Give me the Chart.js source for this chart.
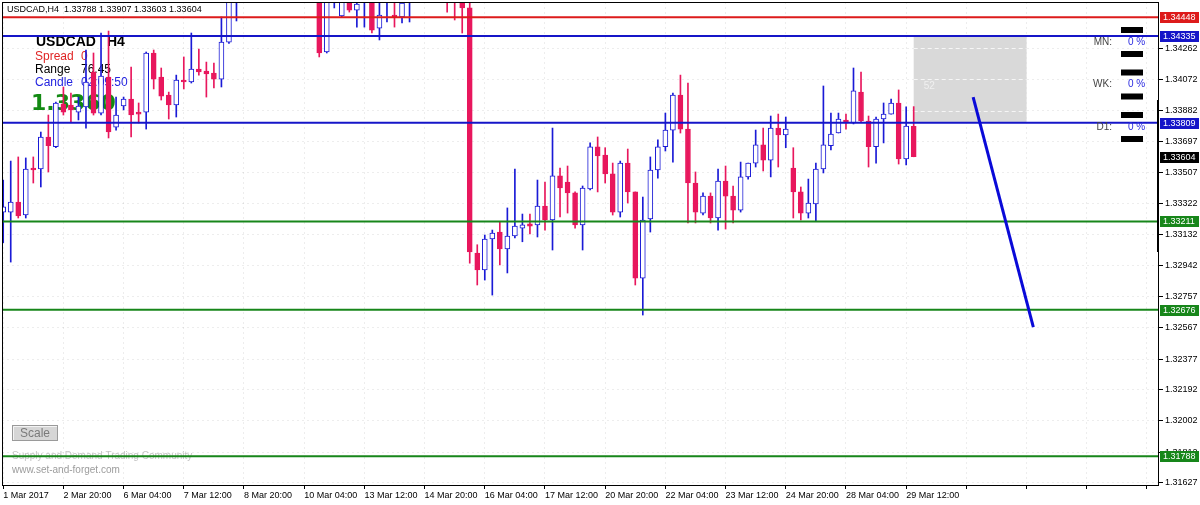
<!DOCTYPE html>
<html>
<head>
<meta charset="utf-8">
<script src="https://cdn.jsdelivr.net/npm/chart.js@4.4.1/dist/chart.umd.min.js"></script>
<style>
  html, body { margin: 0; padding: 0; background: #fff; }
  canvas { display: block; }
</style>
</head>
<body>
<canvas id="grafico" width="1200" height="505"></canvas>
<script>
// USDCAD H4 - bar index 0 = 1 Mar 2017 12:00
const symbol = 'USDCAD';
const period = 'H4';

const opens = [
  1.33268, 1.33268, 1.33329, 1.33250, 1.33535, 1.33529, 1.33723, 1.33664, 1.33923, 1.33917,
  1.33874, 1.33905, 1.34117, 1.33868, 1.34086, 1.33783, 1.33911, 1.33953, 1.33874, 1.33874,
  1.34232, 1.34086, 1.33977, 1.33917, 1.34068, 1.34056, 1.34135, 1.34123, 1.34111, 1.34074,
  1.34298, 1.34620, 1.34760, 1.34880, 1.34980, 1.35070, 1.35150, 1.35280, 1.35100, 1.34950,
  1.34850, 1.34720, 1.34660, 1.34238, 1.34580, 1.34456, 1.34580, 1.34492, 1.34560, 1.34620,
  1.34383, 1.34560, 1.34462, 1.34450, 1.34560, 1.34660, 1.34720, 1.34680, 1.34620, 1.34680,
  1.34600, 1.34535, 1.34505, 1.33020, 1.32917, 1.33105, 1.33147, 1.33044, 1.33123, 1.33171,
  1.33196, 1.33190, 1.33305, 1.33220, 1.33487, 1.33450, 1.33384, 1.33190, 1.33408, 1.33664,
  1.33614, 1.33499, 1.33268, 1.33565, 1.33390, 1.32868, 1.33226, 1.33523, 1.33664, 1.33765,
  1.33977, 1.33771, 1.33444, 1.33262, 1.33365, 1.33232, 1.33456, 1.33365, 1.33280, 1.33481,
  1.33565, 1.33676, 1.33583, 1.33777, 1.33735, 1.33535, 1.33390, 1.33262, 1.33317, 1.33529,
  1.33670, 1.33747, 1.33826, 1.33808, 1.33995, 1.33820, 1.33664, 1.33832, 1.33862, 1.33929,
  1.33590, 1.33788
];
const highs = [
  1.33462, 1.33577, 1.33602, 1.33596, 1.33602, 1.33753, 1.33856, 1.33935, 1.34026, 1.33989,
  1.33965, 1.34250, 1.34232, 1.34353, 1.34365, 1.33965, 1.33965, 1.34147, 1.33929, 1.34238,
  1.34250, 1.34141, 1.33995, 1.34098, 1.34208, 1.34353, 1.34256, 1.34177, 1.34171, 1.34450,
  1.34700, 1.34850, 1.34920, 1.35050, 1.35120, 1.35220, 1.35350, 1.35330, 1.35180, 1.35050,
  1.34900, 1.34800, 1.34700, 1.34680, 1.34700, 1.34700, 1.34620, 1.34580, 1.34680, 1.34680,
  1.34580, 1.34680, 1.34600, 1.34600, 1.34720, 1.34780, 1.34820, 1.34760, 1.34720, 1.34750,
  1.34680, 1.34620, 1.34560, 1.33070, 1.33129, 1.33159, 1.33208, 1.33293, 1.33529, 1.33256,
  1.33256, 1.33462, 1.33450, 1.33777, 1.33535, 1.33547, 1.33390, 1.33426, 1.33687, 1.33723,
  1.33658, 1.33565, 1.33577, 1.33650, 1.33390, 1.33359, 1.33602, 1.33705, 1.33868, 1.33989,
  1.34098, 1.34050, 1.33511, 1.33384, 1.33384, 1.33529, 1.33547, 1.33426, 1.33571, 1.33565,
  1.33765, 1.33777, 1.33850, 1.33862, 1.33844, 1.33658, 1.33420, 1.33468, 1.33565, 1.34032,
  1.33868, 1.33868, 1.33862, 1.34141, 1.34117, 1.33850, 1.33844, 1.33929, 1.33953, 1.34008,
  1.33905, 1.33907
];
const lows = [
  1.33082, 1.32965, 1.33232, 1.33232, 1.33444, 1.33420, 1.33511, 1.33658, 1.33856, 1.33814,
  1.33826, 1.33777, 1.33856, 1.33856, 1.33717, 1.33765, 1.33887, 1.33723, 1.33808, 1.33771,
  1.34014, 1.33947, 1.33832, 1.33844, 1.34014, 1.34050, 1.34098, 1.33965, 1.34020, 1.34026,
  1.34290, 1.34426, 1.34700, 1.34800, 1.34900, 1.34950, 1.35050, 1.35000, 1.34900, 1.34780,
  1.34680, 1.34620, 1.34208, 1.34232, 1.34505, 1.34450, 1.34480, 1.34389, 1.34389, 1.34353,
  1.34311, 1.34420, 1.34389, 1.34414, 1.34420, 1.34600, 1.34640, 1.34580, 1.34560, 1.34480,
  1.34432, 1.34353, 1.32959, 1.32826, 1.32856, 1.32765, 1.32947, 1.32899, 1.33111, 1.33088,
  1.33135, 1.33117, 1.33159, 1.33038, 1.33238, 1.33262, 1.33171, 1.33038, 1.33402, 1.33390,
  1.33444, 1.33250, 1.33238, 1.33323, 1.32826, 1.32644, 1.33147, 1.33474, 1.33638, 1.33571,
  1.33747, 1.33202, 1.33202, 1.33250, 1.33202, 1.33159, 1.33165, 1.33202, 1.33268, 1.33468,
  1.33541, 1.33517, 1.33481, 1.33541, 1.33658, 1.33232, 1.33220, 1.33232, 1.33214, 1.33505,
  1.33644, 1.33747, 1.33771, 1.33802, 1.33814, 1.33541, 1.33565, 1.33687, 1.33862, 1.33559,
  1.33553, 1.33603
];
const closes = [
  1.33299, 1.33329, 1.33244, 1.33529, 1.33523, 1.33723, 1.33670, 1.33929, 1.33874, 1.33887,
  1.33911, 1.34056, 1.33868, 1.34092, 1.33753, 1.33856, 1.33953, 1.33856, 1.33862, 1.34232,
  1.34074, 1.33971, 1.33917, 1.34068, 1.34056, 1.34135, 1.34117, 1.34105, 1.34074, 1.34298,
  1.34620, 1.34760, 1.34880, 1.34980, 1.35070, 1.35150, 1.35280, 1.35100, 1.34950, 1.34850,
  1.34720, 1.34660, 1.34232, 1.34620, 1.34640, 1.34620, 1.34492, 1.34529, 1.34620, 1.34371,
  1.34462, 1.34620, 1.34450, 1.34535, 1.34660, 1.34720, 1.34680, 1.34620, 1.34680, 1.34600,
  1.34560, 1.34505, 1.33026, 1.32917, 1.33105, 1.33141, 1.33044, 1.33123, 1.33183, 1.33190,
  1.33183, 1.33305, 1.33220, 1.33487, 1.33414, 1.33384, 1.33190, 1.33414, 1.33664, 1.33608,
  1.33499, 1.33268, 1.33565, 1.33390, 1.32868, 1.33220, 1.33523, 1.33664, 1.33765, 1.33977,
  1.33771, 1.33444, 1.33268, 1.33365, 1.33232, 1.33456, 1.33365, 1.33280, 1.33481, 1.33565,
  1.33676, 1.33583, 1.33777, 1.33735, 1.33771, 1.33390, 1.33262, 1.33323, 1.33529, 1.33676,
  1.33741, 1.33832, 1.33808, 1.34002, 1.33820, 1.33664, 1.33832, 1.33862, 1.33929, 1.33590,
  1.33789, 1.33604
];

// time axis: one label every 8 bars
const timeLabels = ['1 Mar 2017', '2 Mar 20:00', '6 Mar 04:00', '7 Mar 12:00', '8 Mar 20:00',
  '10 Mar 04:00', '13 Mar 12:00', '14 Mar 20:00', '16 Mar 04:00', '17 Mar 12:00',
  '20 Mar 20:00', '22 Mar 04:00', '23 Mar 12:00', '24 Mar 20:00', '28 Mar 04:00', '29 Mar 12:00'];
const priceTicks = [1.34262, 1.34072, 1.33882, 1.33697, 1.33507, 1.33322, 1.33132, 1.32942,
  1.32757, 1.32567, 1.32377, 1.32192, 1.32002, 1.31812, 1.31627];

// horizontal levels drawn on the chart
const levelPrices = [1.34448, 1.34335, 1.33809, 1.33211, 1.32676, 1.31788];
const levelKinds = ['red', 'blue', 'blue', 'green', 'green', 'green'];

// trend line and zone box (bar index / price)
const trendBars = [128.9, 136.9];
const trendPrices = [1.33965, 1.32571];
const boxBars = [121, 136];
const boxPrices = [1.34335, 1.33809];
const boxText = '52';

const infoRows = ['MN:', 'WK:', 'D1:'];
const infoValues = ['0 %', '0 %', '0 %'];
const spread = '0';
const rangeText = '76.45';
const candleTimer = '02:09:50';

const FONT = '"Liberation Sans", Arial, sans-serif';
const bullColor = '#1a1ad6';
const bearColor = '#e8175d';
const kindColor = { red: '#dd1b1b', blue: '#1515c8', green: '#17861a' };

const last = closes.length - 1;
const isBull = opens.map((o, i) => closes[i] >= o);

const bodyData = opens.map((o, i) => ({ x: i, y: [Math.min(o, closes[i]), Math.max(o, closes[i])] }));
const wickData = highs.map((h, i) => ({ x: i, y: [lows[i], h] }));

const xMin = -0.16, xMax = 153.6;

const levelSets = levelPrices.map((p, k) => ({
  type: 'line',
  data: [{ x: xMin, y: p }, { x: xMax, y: p }],
  borderColor: kindColor[levelKinds[k]],
  borderWidth: 2,
  pointRadius: 0,
  clip: 0,
  order: 1
}));

const mt4Extras = {
  id: 'mt4Extras',
  beforeDatasetsDraw(chart) {
    const { ctx, chartArea: a, scales: { x, y } } = chart;
    ctx.save();
    ctx.beginPath();
    ctx.rect(a.left, a.top, a.right - a.left, a.bottom - a.top);
    ctx.clip();

    // zone box
    const bx0 = x.getPixelForValue(boxBars[0]), bx1 = x.getPixelForValue(boxBars[1]);
    const by0 = y.getPixelForValue(boxPrices[0]), by1 = y.getPixelForValue(boxPrices[1]);
    ctx.fillStyle = '#d9d9d9';
    ctx.fillRect(bx0, by0, bx1 - bx0, by1 - by0);
    ctx.strokeStyle = '#f6f6f6';
    ctx.lineWidth = 1;
    ctx.setLineDash([4, 3]);
    priceTicks.forEach(p => {
      const py = Math.round(y.getPixelForValue(p)) + 0.5;
      if (py > by0 && py < by1) {
        ctx.beginPath(); ctx.moveTo(bx0, py); ctx.lineTo(bx1, py); ctx.stroke();
      }
    });
    ctx.setLineDash([]);
    ctx.fillStyle = '#f0f0f0';
    ctx.font = '10px ' + FONT;
    ctx.textBaseline = 'middle';
    ctx.fillText(boxText, bx0 + 10, by0 + 50);

    // labels in the top-left corner
    ctx.fillStyle = '#000';
    ctx.font = 'bold 14px ' + FONT;
    ctx.fillText(symbol, 36, 42);
    ctx.fillText(period, 107, 42);
    ctx.font = '12px ' + FONT;
    ctx.fillStyle = '#e02424';
    ctx.fillText('Spread', 35, 57);
    ctx.fillText(spread, 81, 57);
    ctx.fillStyle = '#000';
    ctx.fillText('Range', 35, 70);
    ctx.fillText(rangeText, 81, 70);
    ctx.fillStyle = '#2424e0';
    ctx.fillText('Candle', 35, 83);
    ctx.fillText(candleTimer, 81, 83);
    ctx.fillStyle = '#138a13';
    ctx.font = 'bold 22px "DejaVu Sans", sans-serif';
    ctx.fillText(closes[last].toFixed(4), 31, 104);

    // bottom-left
    ctx.fillStyle = '#d6d6d6';
    ctx.fillRect(12, 425, 46, 16);
    ctx.strokeStyle = '#9a9a9a';
    ctx.strokeRect(12.5, 425.5, 45, 15);
    ctx.strokeStyle = '#f4f4f4';
    ctx.beginPath(); ctx.moveTo(13.5, 440); ctx.lineTo(13.5, 426.5); ctx.lineTo(57, 426.5); ctx.stroke();
    ctx.fillStyle = '#7a7a7a';
    ctx.font = '12px ' + FONT;
    ctx.textAlign = 'center';
    ctx.fillText('Scale', 35, 434);
    ctx.textAlign = 'left';
    ctx.font = '10px ' + FONT;
    ctx.fillStyle = '#c4c4c4';
    ctx.fillText('Supply and Demand Trading Community', 12, 456);
    ctx.fillStyle = '#9c9c9c';
    ctx.fillText('www.set-and-forget.com', 12, 470);
    ctx.restore();
  },
  afterDatasetsDraw(chart) {
    const { ctx } = chart;
    ctx.save();
    // MN / WK / D1 panel
    ctx.textBaseline = 'middle';
    ctx.font = '10px ' + FONT;
    infoRows.forEach((r, k) => {
      const cy = 42 + k * 42.5;
      ctx.fillStyle = '#000';
      ctx.fillRect(1121, cy - 15, 22, 6);
      ctx.fillRect(1121, cy + 9, 22, 6);
      ctx.fillStyle = '#444';
      ctx.textAlign = 'right';
      ctx.fillText(r, 1112, cy);
      ctx.fillStyle = '#2a2ae0';
      ctx.textAlign = 'left';
      ctx.fillText(infoValues[k], 1128, cy);
    });
    ctx.restore();
  },
  afterDraw(chart) {
    const { ctx, chartArea: a, scales: { y } } = chart;
    ctx.save();
    // frame
    ctx.strokeStyle = '#000';
    ctx.lineWidth = 1;
    ctx.strokeRect(a.left + 0.5, a.top + 0.5, a.right - a.left - 1, a.bottom - a.top);
    ctx.lineWidth = 2;
    ctx.beginPath();
    ctx.moveTo(a.right - 1, y.getPixelForValue(highs[last] + 0.0004));
    ctx.lineTo(a.right - 1, y.getPixelForValue(1.33026));
    ctx.stroke();

    // header
    ctx.fillStyle = '#000';
    ctx.font = '9px ' + FONT;
    ctx.textBaseline = 'middle';
    ctx.fillText(symbol + ',' + period + '  ' + [opens[last], highs[last], lows[last], closes[last]]
      .map(v => v.toFixed(5)).join(' '), 7, 10);

    // price tags
    const tag = (p, color) => {
      const py = Math.round(y.getPixelForValue(p));
      ctx.fillStyle = color;
      ctx.fillRect(a.right + 1, py - 5, 39, 11);
      ctx.fillStyle = '#fff';
      ctx.font = '9px ' + FONT;
      ctx.fillText(p.toFixed(5), a.right + 4, py + 0.5);
    };
    levelPrices.forEach((p, k) => tag(p, kindColor[levelKinds[k]]));
    tag(closes[last], '#000');
    ctx.restore();
  }
};

new Chart(document.getElementById('grafico'), {
  type: 'bar',
  data: {
    datasets: [
      {
        type: 'line',
        data: [{ x: trendBars[0], y: trendPrices[0] }, { x: trendBars[1], y: trendPrices[1] }],
        borderColor: '#0a0ad8',
        borderWidth: 3,
        pointRadius: 0,
        clip: 0,
        order: 0
      },
      ...levelSets,
      {
        type: 'bar',
        data: bodyData,
        backgroundColor: isBull.map(b => b ? '#ffffff' : bearColor),
        borderColor: isBull.map(b => b ? bullColor : bearColor),
        borderWidth: 1,
        borderSkipped: false,
        barThickness: 5,
        minBarLength: 1,
        grouped: false,
        clip: 0,
        order: 2
      },
      {
        type: 'bar',
        data: wickData,
        backgroundColor: isBull.map(b => b ? bullColor : bearColor),
        borderWidth: 0,
        barThickness: 1,
        grouped: false,
        clip: 0,
        order: 3
      }
    ]
  },
  options: {
    responsive: false,
    animation: false,
    devicePixelRatio: 1,
    layout: { padding: { left: 2, top: 2, right: 0, bottom: 0 } },
    plugins: { legend: { display: false }, tooltip: { enabled: false } },
    scales: {
      x: {
        type: 'linear',
        offset: false,
        min: xMin,
        max: xMax,
        afterFit(scale) {
          scale.height = 20;
          scale.paddingLeft = 0;
          scale.paddingRight = 0;
        },
        afterBuildTicks(scale) {
          const t = [];
          for (let v = 0; v <= 152; v += 8) t.push({ value: v });
          scale.ticks = t;
        },
        grid: { offset: false, color: 'rgba(0,0,0,0.07)', tickLength: 4, tickColor: '#000' },
        border: { display: false, dash: [2, 3] },
        ticks: {
          autoSkip: false,
          maxRotation: 0,
          minRotation: 0,
          align: 'start',
          padding: 1,
          color: '#000',
          font: { family: FONT, size: 9 },
          callback: (v, i) => timeLabels[i] || ''
        }
      },
      y: {
        position: 'right',
        min: 1.31614,
        max: 1.34541,
        afterFit(scale) {
          scale.width = 41;
          scale.paddingTop = 0;
          scale.paddingBottom = 0;
        },
        afterBuildTicks(scale) {
          scale.ticks = priceTicks.map(v => ({ value: v }));
        },
        grid: { color: 'rgba(0,0,0,0.07)', tickLength: 4, tickColor: '#000' },
        border: { display: false, dash: [2, 3] },
        ticks: {
          padding: 2,
          color: '#000',
          font: { family: FONT, size: 9 },
          callback: v => v.toFixed(5)
        }
      }
    }
  },
  plugins: [mt4Extras]
});
</script>
</body>
</html>
